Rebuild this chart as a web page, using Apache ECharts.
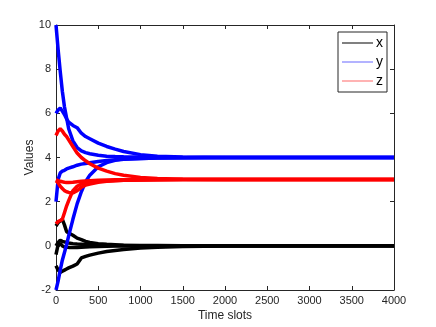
<!DOCTYPE html>
<html>
<head>
<meta charset="utf-8">
<script src="https://cdn.jsdelivr.net/npm/echarts@6/dist/echarts.min.js"></script>
<style>html,body{margin:0;padding:0;background:#fff}#c{width:436px;height:327px}</style>
</head>
<body>
<div id="c"></div>
<script>
// Time grid (shared by all trajectories)
var timeSlots = [0,25,50,75,100,125,150,200,250,300,350,400,500,600,700,800,1000,1200,1500,2000,4000];

// x trajectories (black)
var x1 = [0.9,1.05,1.13,1.2,0.95,0.65,0.58,0.48,0.35,0.28,0.2,0.15,0.1,0.07,0.05,0.03,0.015,0.01,0,0,0];
var x2 = [-0.9,-1.1,-1.2,-1.15,-1.1,-1.05,-1.0,-0.92,-0.82,-0.55,-0.48,-0.42,-0.33,-0.26,-0.21,-0.17,-0.1,-0.06,-0.03,-0.01,0];
var x3 = [0.0,0.15,0.25,0.2,0.18,0.15,0.13,0.1,0.08,0.07,0.06,0.05,0.03,0.02,0.01,0.01,0,0,0,0,0];
var x4 = [-0.4,0.05,0.1,0.0,-0.05,-0.06,-0.07,-0.08,-0.07,-0.06,-0.05,-0.04,-0.03,-0.02,-0.01,-0.01,0,0,0,0,0];

// y trajectories (blue)
var y1 = [10,8.9,7.9,7.0,6.3,5.8,5.3,4.75,4.45,4.3,4.22,4.17,4.1,4.06,4.04,4.03,4.02,4.01,4.0,4.0,4.0];
var y2 = [6.0,6.15,6.24,6.1,5.95,5.75,5.6,5.45,5.35,5.1,4.95,4.85,4.65,4.5,4.38,4.27,4.13,4.06,4.02,4.0,4.0];
var y3 = [2.0,3.0,3.3,3.38,3.42,3.48,3.52,3.58,3.65,3.7,3.73,3.76,3.82,3.86,3.9,3.93,3.96,3.98,3.99,4.0,4.0];
var y4 = [-2,-1.6,-1.1,-0.65,-0.3,0.05,0.45,1.2,1.9,2.45,2.9,3.2,3.58,3.77,3.87,3.92,3.96,3.98,3.99,4.0,4.0];

// z trajectories (red)
var z1 = [5.0,5.2,5.3,5.2,5.05,4.95,4.8,4.5,4.2,4.0,3.85,3.72,3.52,3.38,3.27,3.2,3.1,3.05,3.02,3.0,3.0];
var z2 = [3.0,2.95,2.93,2.9,2.88,2.87,2.87,2.88,2.9,2.92,2.94,2.95,2.97,2.98,2.99,2.99,3.0,3.0,3.0,3.0,3.0];
var z3 = [2.95,2.85,2.7,2.6,2.5,2.45,2.42,2.4,2.5,2.65,2.75,2.8,2.88,2.92,2.95,2.97,2.98,2.99,3.0,3.0,3.0];
var z4 = [1.0,1.1,1.15,1.2,1.5,1.8,2.05,2.5,2.7,2.8,2.85,2.88,2.92,2.94,2.96,2.97,2.98,2.99,3.0,3.0,3.0];

var legendNames = ['x','y','z'];

function pairs(v){ return timeSlots.map(function(t,i){ return [t, v[i]]; }); }
function mk(name, color, v){
  return { name: name, type: 'line', data: pairs(v), symbol: 'none', smooth: false,
    lineStyle: { color: color, width: 3.5 }, itemStyle: { color: color }, silent: true, animation: false };
}
var FONT = 'Liberation Sans';
var chart = echarts.init(document.getElementById('c'), null, { renderer: 'canvas' });
function common(){
  return {
    axisLine: { show: true, onZero: false, lineStyle: { color: '#262626', width: 1 } },
    axisTick: { show: true, inside: true, length: 4, lineStyle: { color: '#262626' } },
    splitLine: { show: false }
  };
}
function plain(v){ return String(v); }
chart.setOption({
  animation: false,
  backgroundColor: '#fff',
  grid: { left: 56, right: 42, top: 25, bottom: 36 },
  legend: {
    data: [
      { name: legendNames[0], itemStyle: { color: '#000' } },
      { name: legendNames[1], itemStyle: { color: '#6666ff' } },
      { name: legendNames[2], itemStyle: { color: '#ff6666' } }
    ],
    orient: 'vertical', left: 338, top: 32,
    padding: [4, 4, 4, 4], itemWidth: 31, itemHeight: 14, itemGap: 5,
    icon: 'path://M0,0 L31,0 L31,1 L0,1 Z',
    textStyle: { fontFamily: FONT, fontSize: 14, color: '#000', padding: [0,0,0,-2] },
    borderColor: '#262626', borderWidth: 1, backgroundColor: '#fff', borderRadius: 0,
    selectedMode: false
  },
  xAxis: [
    Object.assign({ type: 'value', min: 0, max: 4000, interval: 500, position: 'bottom',
      name: 'Time slots', nameLocation: 'middle', nameGap: 20, nameMoveOverlap: false,
      nameTextStyle: { fontFamily: FONT, fontSize: 12, color: '#262626' },
      axisLabel: { fontFamily: FONT, fontSize: 11, color: '#262626', margin: 5, formatter: plain }
    }, common()),
    Object.assign({ type: 'value', min: 0, max: 4000, interval: 500, position: 'top',
      axisLabel: { show: false } }, common())
  ],
  yAxis: [
    Object.assign({ type: 'value', min: -2, max: 10, interval: 2, position: 'left',
      name: 'Values', nameLocation: 'middle', nameGap: 20, nameMoveOverlap: false,
      nameTextStyle: { fontFamily: FONT, fontSize: 12, color: '#262626' },
      axisLabel: { fontFamily: FONT, fontSize: 11, color: '#262626', margin: 5, formatter: plain }
    }, common()),
    Object.assign({ type: 'value', min: -2, max: 10, interval: 2, position: 'right',
      axisLabel: { show: false } }, common())
  ],
  series: [
    mk('x', '#000000', x1), mk('x', '#000000', x2), mk('x', '#000000', x3), mk('x', '#000000', x4),
    mk('y', '#0000ff', y1), mk('y', '#0000ff', y2), mk('y', '#0000ff', y3), mk('y', '#0000ff', y4),
    mk('z', '#ff0000', z1), mk('z', '#ff0000', z2), mk('z', '#ff0000', z3), mk('z', '#ff0000', z4)
  ]
});
</script>
</body>
</html>
